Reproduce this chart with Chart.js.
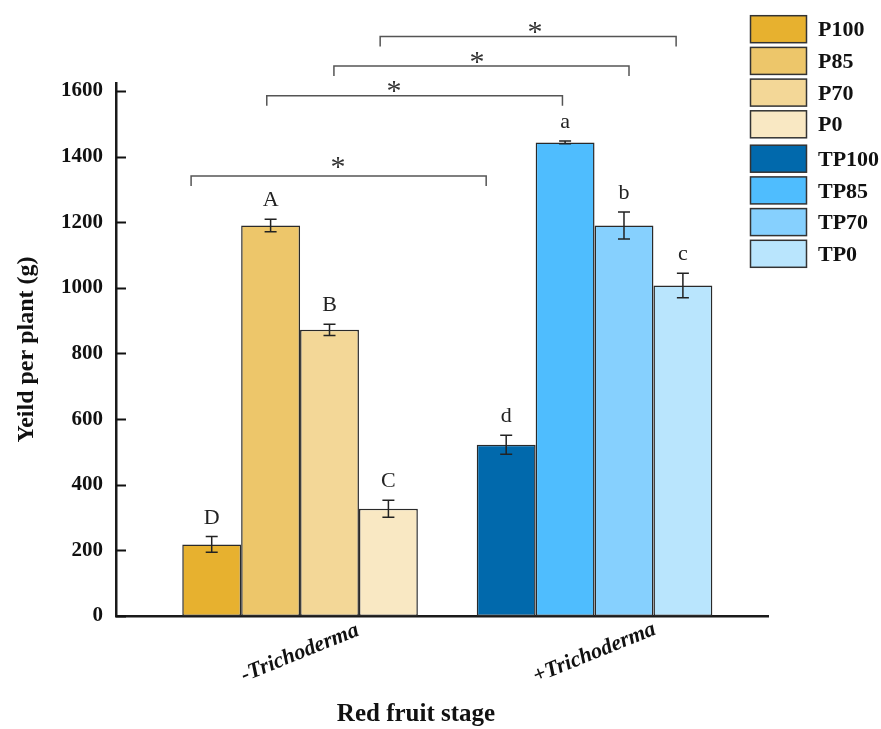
<!DOCTYPE html>
<html>
<head>
<meta charset="utf-8">
<script src="https://cdn.jsdelivr.net/npm/chart.js@4.4.1/dist/chart.umd.min.js"></script>
<style>
  html, body { margin: 0; padding: 0; background: #fff; }
  #wrap { width: 881px; height: 729px; position: relative; }
</style>
</head>
<body>
<div id="wrap"><canvas id="yieldChart"></canvas></div>
<script>
// yield per plant - red fruit stage
const categories = ['-Trichoderma', '+Trichoderma'];
const legendNames = ['P100', 'P85', 'P70', 'P0', 'TP100', 'TP85', 'TP70', 'TP0'];
const minusValues = [218, 1190, 872, 327];
const plusValues = [522, 1443, 1190, 1007];
const minusErr = [24, 19, 17, 26];
const plusErr = [29, 4, 41, 37];
const minusLetters = ['D', 'A', 'B', 'C'];
const plusLetters = ['d', 'a', 'b', 'c'];
const minusColors = ['#E7B12F', '#EDC66A', '#F3D797', '#F9E8C3'];
const plusColors = ['#0169AC', '#4FBDFE', '#86D0FE', '#B9E5FD'];
const yTicks = [0, 200, 400, 600, 800, 1000, 1200, 1400, 1600];

// significance brackets (x in category units, y in grams)
const bracketLeft = [-0.37, -0.113, 0.115, 0.272];
const bracketRight = [0.632, 0.891, 1.117, 1.277];
const bracketY = [1341, 1585, 1676, 1766];
const starX = [0.129, 0.319, 0.601, 0.798];
const starY = [1384, 1616, 1704, 1796];

const SERIF = "'Liberation Serif', 'Times New Roman', serif";

const datasets = minusValues.map((v, i) => ({
    label: legendNames[i],
    data: [{ x: 0, y: v }, { x: 1, y: plusValues[i] }],
    backgroundColor: [minusColors[i], plusColors[i]],
    borderColor: '#2a2a2a',
    borderWidth: 1.5,
    borderSkipped: false
}));

const extras = {
    id: 'extras',
    afterDraw(chart) {
        const ctx = chart.ctx;
        const xs = chart.scales.x, ys = chart.scales.y;
        const area = chart.chartArea;
        ctx.save();

        // inward y ticks
        ctx.strokeStyle = '#111'; ctx.lineWidth = 2;
        yTicks.forEach(t => {
            const y = Math.round(ys.getPixelForValue(t)) + 0.5;
            ctx.beginPath(); ctx.moveTo(area.left, y); ctx.lineTo(area.left + 10, y); ctx.stroke();
        });

        // error bars + letters
        datasets.forEach((ds, di) => {
            const meta = chart.getDatasetMeta(di);
            meta.data.forEach((bar, ci) => {
                const v = ci === 0 ? minusValues[di] : plusValues[di];
                const e = ci === 0 ? minusErr[di] : plusErr[di];
                const yt = ys.getPixelForValue(v + e), yb = ys.getPixelForValue(v - e);
                ctx.strokeStyle = '#222'; ctx.lineWidth = 1.5;
                ctx.beginPath();
                ctx.moveTo(bar.x, yt); ctx.lineTo(bar.x, yb);
                ctx.moveTo(bar.x - 6, yt); ctx.lineTo(bar.x + 6, yt);
                ctx.moveTo(bar.x - 6, yb); ctx.lineTo(bar.x + 6, yb);
                ctx.stroke();
                ctx.fillStyle = '#222';
                ctx.font = '22px ' + SERIF;
                ctx.textAlign = 'center'; ctx.textBaseline = 'alphabetic';
                ctx.fillText(ci === 0 ? minusLetters[di] : plusLetters[di], bar.x, yt - 13);
            });
        });

        // brackets and stars
        ctx.strokeStyle = '#555'; ctx.lineWidth = 1.5;
        bracketY.forEach((by, i) => {
            const y = ys.getPixelForValue(by);
            const x1 = xs.getPixelForValue(bracketLeft[i]), x2 = xs.getPixelForValue(bracketRight[i]);
            ctx.beginPath();
            ctx.moveTo(x1, y + 10); ctx.lineTo(x1, y); ctx.lineTo(x2, y); ctx.lineTo(x2, y + 10);
            ctx.stroke();
            ctx.fillStyle = '#333';
            ctx.font = '30px ' + SERIF;
            ctx.textAlign = 'center'; ctx.textBaseline = 'alphabetic';
            ctx.fillText('*', xs.getPixelForValue(starX[i]), ys.getPixelForValue(starY[i]) + 14);
        });

        // category labels (rotated, centred under group)
        ctx.fillStyle = '#111';
        ctx.font = 'italic bold 22px ' + SERIF;
        ctx.textAlign = 'center'; ctx.textBaseline = 'middle';
        categories.forEach((c, i) => {
            ctx.save();
            ctx.translate(xs.getPixelForValue(i), area.bottom + 37);
            ctx.rotate(-22 * Math.PI / 180);
            ctx.fillText(c, 0, 0);
            ctx.restore();
        });

        // axis titles
        ctx.font = 'bold 25px ' + SERIF;
        ctx.textBaseline = 'alphabetic';
        ctx.fillText('Red fruit stage', 416, 721);
        ctx.save();
        ctx.translate(33, (area.top + area.bottom) / 2);
        ctx.rotate(-Math.PI / 2);
        ctx.font = 'bold 24px ' + SERIF;
        ctx.fillText('Yeild per plant (g)', 0, 0);
        ctx.restore();

        // legend
        const colors = minusColors.concat(plusColors);
        legendNames.forEach((name, i) => {
            const top = 15.7 + i * 31.7 + (i >= 4 ? 2.7 : 0);
            ctx.fillStyle = colors[i];
            ctx.fillRect(750.5, top, 56, 27);
            ctx.strokeStyle = '#333'; ctx.lineWidth = 1.5;
            ctx.strokeRect(750.5, top, 56, 27);
            ctx.fillStyle = '#111';
            ctx.font = 'bold 22px ' + SERIF;
            ctx.textAlign = 'left'; ctx.textBaseline = 'middle';
            ctx.fillText(name, 818, top + 15);
        });
        ctx.restore();
    }
};

new Chart(document.getElementById('yieldChart'), {
    type: 'bar',
    data: { datasets },
    options: {
        responsive: true,
        maintainAspectRatio: false,
        animation: false,
        layout: { padding: { top: 83, right: 113, left: 0, bottom: 0 } },
        plugins: { legend: { display: false }, tooltip: { enabled: false } },
        datasets: { bar: { categoryPercentage: 0.8, barPercentage: 1.0 } },
        scales: {
            x: {
                type: 'linear',
                min: -0.625,
                max: 1.589,
                grid: { display: false, drawTicks: false },
                border: { display: true, color: '#1a1a1a', width: 2.5 },
                ticks: { display: false },
                afterBuildTicks: axis => { axis.ticks = []; },
                afterFit: axis => { axis.height = 113; }
            },
            y: {
                min: 0,
                max: 1624,
                grid: { display: false, drawTicks: false },
                border: { display: true, color: '#1a1a1a', width: 2.5 },
                afterBuildTicks: axis => { axis.ticks = yTicks.map(v => ({ value: v })); },
                ticks: {
                    padding: 13,
                    color: '#111',
                    font: { family: SERIF, size: 21, weight: 'bold' },
                    callback: v => String(v)
                },
                afterFit: axis => { axis.width = 116; }
            }
        }
    },
    plugins: [extras]
});
</script>
</body>
</html>
